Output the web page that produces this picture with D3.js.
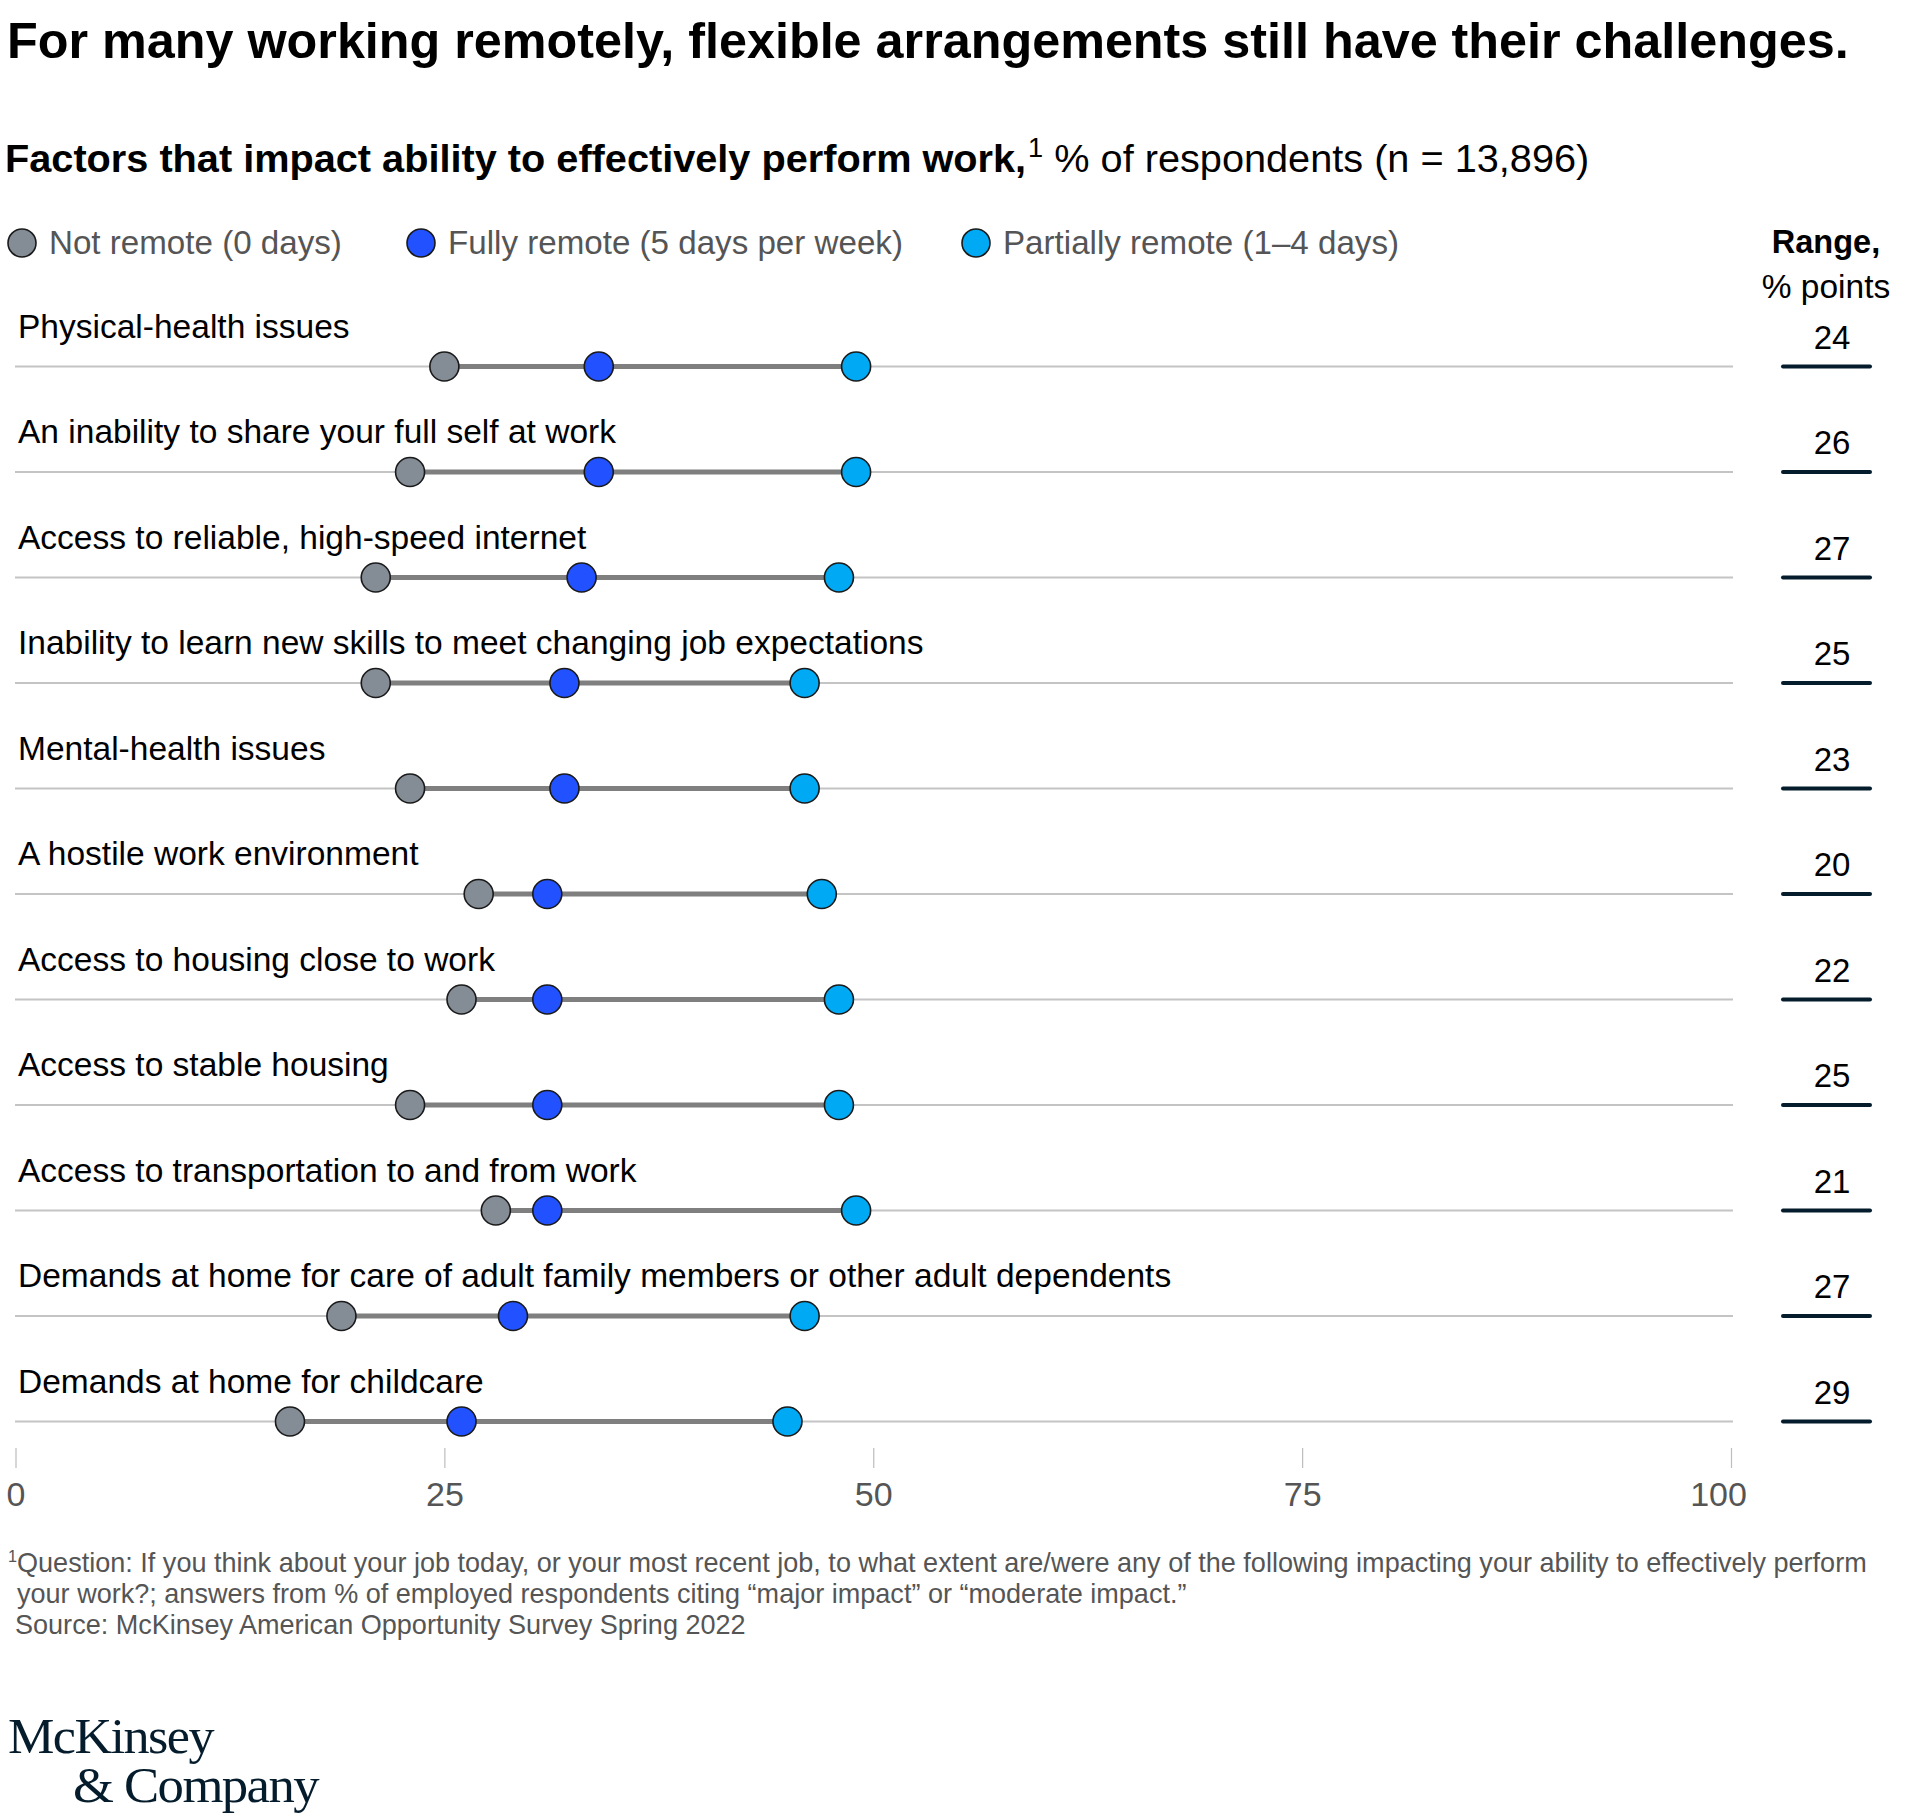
<!DOCTYPE html>
<html>
<head>
<meta charset="utf-8">
<script src="https://cdn.jsdelivr.net/npm/d3@7"></script>
<style>
  html, body { margin: 0; padding: 0; background: #fff; }
  svg { display: block; font-family: "Liberation Sans", Arial, sans-serif; }
</style>
</head>
<body>
<svg id="chart" width="1920" height="1819"></svg>
<script>
// ---------- DATA ----------
const categories = [
  "Physical-health issues",
  "An inability to share your full self at work",
  "Access to reliable, high-speed internet",
  "Inability to learn new skills to meet changing job expectations",
  "Mental-health issues",
  "A hostile work environment",
  "Access to housing close to work",
  "Access to stable housing",
  "Access to transportation to and from work",
  "Demands at home for care of adult family members or other adult dependents",
  "Demands at home for childcare"
];
const notRemote       = [25, 23, 21, 21, 23, 27, 26, 23, 28, 19, 16];
const fullyRemote     = [34, 34, 33, 32, 32, 31, 31, 31, 31, 29, 26];
const partiallyRemote = [49, 49, 48, 46, 46, 47, 48, 48, 49, 46, 45];
const rangeValues     = [24, 26, 27, 25, 23, 20, 22, 25, 21, 27, 29];
const xTicks = [0, 25, 50, 75, 100];
const seriesNames = ["Not remote (0 days)", "Fully remote (5 days per week)", "Partially remote (1–4 days)"];
const seriesColors = ["#848d96", "#2251ff", "#00a9f4"];

const title = "For many working remotely, flexible arrangements still have their challenges.";
const subtitleBold = "Factors that impact ability to effectively perform work,";
const subtitleRest = " % of respondents (n = 13,896)";
const footLines = [
  "Question: If you think about your job today, or your most recent job, to what extent are/were any of the following impacting your ability to effectively perform",
  "your work?; answers from % of employed respondents citing “major impact” or “moderate impact.”",
  "Source: McKinsey American Opportunity Survey Spring 2022"
];

// ---------- LAYOUT ----------
const svg = d3.select("#chart");
const x = d3.scaleLinear().domain([0, 100]).range([15.5, 1731]);
const y = d3.scalePoint().domain(categories).range([366.5, 1421.5]);

function fitWidth(sel, target) {
  const w = sel.node().getComputedTextLength();
  const fs = parseFloat(sel.attr("font-size"));
  sel.attr("font-size", fs * target / w);
}

// Title
const t = svg.append("text").attr("x", 7).attr("y", 58)
  .attr("font-size", 48).attr("font-weight", "bold").attr("fill", "#000").text(title);
fitWidth(t, 1842);

// Subtitle
const st = svg.append("text").attr("x", 5).attr("y", 172).attr("font-size", 38).attr("fill", "#000");
st.append("tspan").attr("font-weight", "bold").text(subtitleBold);
st.append("tspan").attr("font-size", 26).attr("dy", -14).attr("dx", 2).text("1");
st.append("tspan").attr("dy", 14).text(subtitleRest);
(function(){
  const w = st.node().getComputedTextLength();
  const scale = 1583 / w;
  st.attr("font-size", 38 * scale);
  st.selectAll("tspan").filter((d, i) => i === 1).attr("font-size", 26 * scale).attr("dy", -14 * scale);
  st.selectAll("tspan").filter((d, i) => i === 2).attr("dy", 14 * scale);
})();

// Legend
const legendX = [22, 421, 976];
const lg = svg.append("g");
seriesNames.forEach((name, i) => {
  lg.append("circle").attr("cx", legendX[i]).attr("cy", 243).attr("r", 14)
    .attr("fill", seriesColors[i]).attr("stroke", "#1a1a1a").attr("stroke-width", 1.6);
  lg.append("text").attr("x", legendX[i] + 27).attr("y", 254)
    .attr("font-size", 30).attr("fill", "#555").text(name);
});
(function(){
  const first = lg.selectAll("text").nodes()[0];
  const w = first.getComputedTextLength();
  const fs = 30 * 293 / w;
  lg.selectAll("text").attr("font-size", fs);
})();

// Range header
svg.append("text").attr("x", 1826).attr("y", 253).attr("text-anchor", "middle")
  .attr("font-size", 32.5).attr("font-weight", "bold").attr("fill", "#000").text("Range,");
svg.append("text").attr("x", 1826).attr("y", 298).attr("text-anchor", "middle")
  .attr("font-size", 33.5).attr("fill", "#000").text("% points");

// Rows
const rows = svg.append("g").selectAll("g").data(categories).join("g")
  .attr("transform", d => `translate(0,${y(d)})`);

rows.append("line").attr("x1", 15).attr("x2", 1733).attr("y1", 0).attr("y2", 0)
  .attr("stroke", "#c4c4c4").attr("stroke-width", 2);

const labels = rows.append("text").attr("x", 18).attr("y", -29)
  .attr("font-size", 29).attr("fill", "#000").text(d => d);
(function(){
  const longest = labels.nodes()[9];
  const w = longest.getComputedTextLength();
  labels.attr("font-size", 29 * 1154 / w);
})();

rows.append("line")
  .attr("x1", (d, i) => x(Math.min(notRemote[i], fullyRemote[i], partiallyRemote[i])))
  .attr("x2", (d, i) => x(Math.max(notRemote[i], fullyRemote[i], partiallyRemote[i])))
  .attr("y1", 0).attr("y2", 0)
  .attr("stroke", "#7f7f7f").attr("stroke-width", 5);

[notRemote, fullyRemote, partiallyRemote].forEach((series, s) => {
  rows.append("circle")
    .attr("cx", (d, i) => x(series[i])).attr("cy", 0).attr("r", 14.5)
    .attr("fill", seriesColors[s]).attr("stroke", "#1a1a1a").attr("stroke-width", 1.6);
});

rows.append("text").attr("x", 1832).attr("y", -18).attr("text-anchor", "middle")
  .attr("font-size", 33).attr("fill", "#000").text((d, i) => rangeValues[i]);
rows.append("line").attr("x1", 1783).attr("x2", 1870).attr("y1", 0).attr("y2", 0)
  .attr("stroke", "#051c2c").attr("stroke-width", 4).attr("stroke-linecap", "round");

// X axis
const axis = d3.axisBottom(x).tickValues(xTicks).tickSize(20).tickPadding(14).tickFormat(d3.format("d"));
const ag = svg.append("g").attr("transform", "translate(0,1448)").call(axis);
ag.select(".domain").remove();
ag.attr("font-family", null);
ag.selectAll(".tick line").attr("stroke", "#bdbdbd").attr("stroke-width", 1.2);
ag.selectAll(".tick text").attr("font-size", 34).attr("fill", "#555")
  .attr("dx", d => d === 100 ? -13 : 0);

// Footnote
const fn = svg.append("g").attr("fill", "#555");
const f1 = fn.append("text").attr("x", 8).attr("y", 1572).attr("font-size", 25);
f1.append("tspan").attr("font-size", 15).attr("dy", -9).text("1");
f1.append("tspan").attr("dy", 9).text(footLines[0]);
const f2 = fn.append("text").attr("x", 17).attr("y", 1603).attr("font-size", 25).text(footLines[1]);
const f3 = fn.append("text").attr("x", 15).attr("y", 1634).attr("font-size", 25).text(footLines[2]);
(function(){
  const w = f1.node().getComputedTextLength();
  const sc = 1859 / w;
  [f1, f2, f3].forEach(s => s.attr("font-size", 25 * sc));
  f1.select("tspan").attr("font-size", 15 * sc).attr("dy", -9 * sc);
  f1.selectAll("tspan").filter((d, i) => i === 1).attr("dy", 9 * sc);
})();

// Logo
const logo = svg.append("g").attr("fill", "#051c2c")
  .style("font-family", "'Liberation Serif', 'Times New Roman', serif");
const l1 = logo.append("text").attr("x", 8).attr("y", 1753).attr("font-size", 50)
  .attr("letter-spacing", -1.5).text("McKinsey");
const l2 = logo.append("text").attr("x", 73).attr("y", 1802).attr("font-size", 50)
  .attr("letter-spacing", -1.5).text("& Company");
l1.attr("textLength", 205).attr("lengthAdjust", "spacingAndGlyphs");
l2.attr("textLength", 245).attr("lengthAdjust", "spacingAndGlyphs");
</script>
</body>
</html>
